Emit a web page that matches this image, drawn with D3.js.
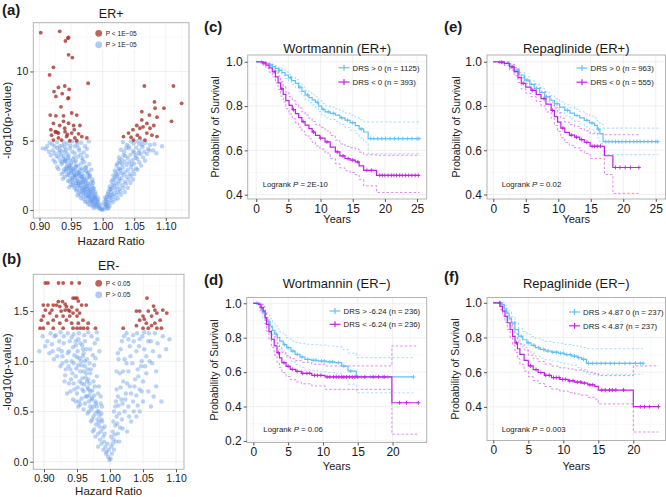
<!DOCTYPE html>
<html><head><meta charset="utf-8">
<script src="https://cdn.jsdelivr.net/npm/d3@7"></script>
<style>body{margin:0;background:#fff}svg{display:block}text{font-family:"Liberation Sans",Arial,sans-serif}</style>
</head><body><svg id="c" width="666" height="497"></svg>
<script>
// ---------- Volcano ER+ (a) ----------
const aRed=[[0.902,12.8],[0.932,12.9],[0.941,12.2],[0.945,12.4],[0.946,12.45],[0.946,11.2],[0.952,11.0],[0.922,10.3],[0.916,9.75],[0.977,9.15],[0.940,8.95],[0.947,8.7],[0.923,8.55],[0.930,8.85],[0.936,8.4],[0.926,8.2],[0.946,8.1],[0.945,8.05],[0.934,7.45],
[1.066,8.95],[1.112,8.95],[1.082,7.8],[1.125,7.7],[1.083,7.35],[1.062,7.1],[1.097,7.35],
[0.917,6.85],[0.926,6.8],[0.938,6.8],[0.951,7.0],[0.959,6.85],[1.074,6.85],[1.086,6.7],
[0.922,6.25],[0.938,6.4],[0.946,6.26],[0.954,6.1],[0.964,6.1],[0.918,5.8],[0.925,5.65],[0.930,5.55],[0.9405,5.65],[0.951,5.55],[0.919,5.4],[0.930,5.2],[0.943,5.3],[0.956,5.2],[0.967,5.3],[0.922,5.05],[0.935,5.05],[0.948,5.0],[0.959,5.0],[0.975,5.2],
[1.033,5.3],[1.041,5.55],[1.048,5.8],[1.054,6.1],[1.059,5.9],[1.064,6.0],[1.070,5.55],[1.078,5.4],[1.086,5.3],[1.049,5.05],[1.059,5.2],[1.067,5.05],[1.062,6.5],[1.070,6.25],[1.081,6.1],[1.109,6.4],
[0.928,5.6],[0.926,5.62],[0.940,5.9],[0.955,5.8],[0.932,6.1],[0.944,5.45],[0.962,5.5],[1.045,5.25],[1.055,5.4],[1.075,5.9]];
const aBlue=[[0.998,0.05],[0.996,0.15],[0.994,0.3],[0.992,0.2],[0.997,0.4],[0.990,0.45],[0.993,0.55],[0.995,0.1],[0.999,0.02],[0.988,0.5],[0.991,0.35],
[0.985,0.7],[0.987,0.9],[0.982,0.8],[0.990,0.75],[0.979,0.95],[0.984,0.6],[0.976,0.85],[0.988,1.0],[0.992,0.9],[0.973,0.98],[0.981,0.65],
[0.970,1.1],[0.975,1.3],[0.980,1.2],[0.985,1.4],[0.967,1.35],[0.972,1.45],[0.962,1.2],[0.978,1.05],[0.988,1.3],[0.958,1.4],[0.983,1.15],[0.965,1.05],
[0.955,1.6],[0.962,1.75],[0.968,1.9],[0.974,1.7],[0.980,1.85],[0.950,1.8],[0.958,1.95],[0.985,1.6],[0.947,1.65],[0.970,1.55],[0.977,1.95],[0.964,1.6],[0.953,1.98],
[0.945,2.1],[0.952,2.3],[0.960,2.2],[0.967,2.4],[0.973,2.15],[0.979,2.35],[0.940,2.4],[0.956,2.45],[0.984,2.2],[0.948,2.05],[0.963,2.05],[0.970,2.45],[0.937,2.25],
[0.935,2.6],[0.942,2.8],[0.950,2.7],[0.957,2.9],[0.963,2.65],[0.970,2.85],[0.976,2.6],[0.930,2.95],[0.946,2.55],[0.982,2.9],[0.953,2.95],[0.938,2.75],
[0.928,3.1],[0.935,3.3],[0.943,3.15],[0.950,3.4],[0.958,3.2],[0.966,3.35],[0.973,3.1],[0.925,3.45],[0.947,3.05],[0.955,3.45],[0.979,3.3],[0.940,3.5],
[0.922,3.6],[0.930,3.8],[0.938,3.7],[0.946,3.9],[0.953,3.65],[0.961,3.85],[0.968,3.6],[0.918,3.95],[0.975,3.9],[0.942,3.55],[0.934,3.98],
[0.915,4.2],[0.924,4.1],[0.932,4.35],[0.940,4.2],[0.948,4.45],[0.956,4.1],[0.963,4.3],[0.970,4.15],[0.910,4.4],[0.928,4.48],[0.944,4.05],[0.975,4.4],
[0.912,4.6],[0.920,4.75],[0.928,4.9],[0.936,4.65],[0.944,4.8],[0.952,4.95],[0.960,4.7],[0.966,4.85],[0.972,4.6],[0.978,4.95],[0.940,4.55],[0.956,4.6],
[0.972,0.6],[0.978,1.6],[0.966,2.0],[0.961,2.55],[0.975,2.3],[0.969,1.25],[0.983,1.75],[0.959,1.5],[0.974,2.8],[0.967,3.0],[0.961,1.85],[0.979,2.55],[0.985,1.95],[0.971,1.65],[0.955,2.6],[0.964,1.35],[0.986,0.85],[0.977,0.45],[0.981,1.45],[0.952,2.15],[0.968,2.25],[0.957,3.1],[0.962,2.75],[0.949,3.25],[0.945,2.95],[0.905,4.45],
[0.989,0.25],[0.986,0.4],[0.983,0.55],[0.980,0.7],[0.977,1.0],[0.974,1.15],[0.971,1.35],[0.968,1.55],[0.965,1.75],[0.962,1.95],[0.959,2.1],[0.956,2.3],[0.953,2.5],[0.950,2.85],[0.947,3.15],[0.944,3.35],[0.941,3.65],[0.938,3.9],[0.935,4.25],[0.932,4.6],
[0.991,0.6],[0.988,0.8],[0.985,1.05],[0.982,1.3],[0.979,1.5],[0.976,1.75],[0.973,2.0],[0.970,2.2],[0.967,2.6],[0.964,2.9],[0.961,3.2],[0.958,3.55],[0.955,3.8],[0.952,4.2],[0.949,4.65],
[0.984,0.3],[0.981,0.95],[0.978,1.3],[0.975,1.5],[0.972,1.85],[0.969,2.05],[0.966,2.35],[0.963,2.45],[0.960,2.7],[0.957,2.5],[0.954,2.8],[0.951,3.05],[0.948,3.6],[0.945,3.75],[0.942,4.35],[0.939,4.85],
[0.993,0.75],[0.989,1.15],[0.986,1.55],[0.983,2.05],[0.980,2.45],[0.977,2.75],[0.974,3.05],[0.971,3.45],[0.968,3.75],[0.965,4.0],[0.962,4.45],[0.959,4.9],
[0.957,1.75],[0.953,1.8],[0.949,2.3],[0.944,2.5],[0.939,2.95],[0.933,3.55],[0.927,3.9],[0.921,4.3],[0.916,4.85],[0.924,4.6],[0.931,4.15],[0.936,3.45],[0.942,3.0],[0.947,2.7],[0.960,1.05],[0.966,0.85],[0.970,0.8],[0.975,0.6],[0.980,0.35],[0.986,0.15],
[1.002,0.05],[1.004,0.2],[1.003,0.4],[1.006,0.3],[1.008,0.6],[1.005,0.8],[1.010,0.5],[1.007,1.0],[1.012,0.85],[1.015,1.1],[1.009,1.3],[1.018,1.2],[1.013,1.5],[1.020,1.45],[1.011,1.7],[1.022,1.65],[1.016,1.85],[1.025,1.9],[1.014,2.05],[1.019,2.2],[1.027,2.1],[1.030,2.3],[1.023,2.45],[1.017,2.5],[1.033,2.55],[1.021,2.7],[1.028,2.85],[1.036,2.75],[1.025,2.95],[1.040,2.9],[1.032,3.05],[1.022,3.2],[1.038,3.25],[1.045,3.1],[1.028,3.4],[1.035,3.5],[1.042,3.45],[1.050,3.35],[1.030,3.65],[1.040,3.75],[1.047,3.6],[1.055,3.7],[1.036,3.9],[1.044,4.0],[1.052,3.95],[1.060,4.05],[1.034,4.2],[1.048,4.25],[1.058,4.3],[1.066,4.2],[1.042,4.45],[1.053,4.5],[1.063,4.55],[1.072,4.4],[1.038,4.7],[1.049,4.8],[1.058,4.75],[1.068,4.85],[1.045,4.95],[1.062,4.95],[1.094,4.6],[1.080,4.3],[1.075,4.7],
[1.006,0.7],[1.012,1.05],[1.009,0.15],[1.017,0.95],[1.024,1.3],[1.020,0.75],[1.027,1.55],[1.031,1.8],[1.035,2.05],[1.026,2.25],[1.038,2.4],[1.043,2.6],[1.030,2.65],[1.048,2.85],[1.053,3.0],[1.026,3.55],[1.058,3.45],[1.064,3.8],[1.050,4.15],[1.070,4.05],
[1.003,0.6],[1.005,0.45],[1.007,0.35],[1.004,0.9],[1.008,1.15],[1.010,0.95],[1.013,1.3],[1.011,1.5],[1.015,1.6],[1.018,1.75],[1.021,1.95],[1.016,2.2],[1.020,2.4],[1.024,2.6],[1.019,2.85],[1.027,3.0],[1.023,3.35],[1.031,3.3],[1.026,3.8],[1.033,3.95],[1.029,4.35],[1.037,4.45],[1.032,4.9],[1.041,4.6],[1.055,4.95],[1.014,0.7],[1.022,1.1],[1.028,1.35],[1.033,1.6],[1.037,1.9],[1.041,2.2],[1.045,2.45],[1.050,2.6],[1.055,2.9],[1.046,3.3],[1.061,3.2],[1.052,3.75],[1.067,3.55],[1.057,4.1],[1.074,4.3],[1.063,4.7],[1.082,4.75],[1.085,4.1],[1.008,0.1],[1.011,0.3],[1.016,0.55],[1.024,0.85],[1.029,1.1],[1.035,1.3],[1.040,1.6],[1.044,1.95],[1.048,2.2]];

// ---------- Volcano ER- (b) ----------
const bRed=[[0.902,1.78],[0.906,1.78],[0.922,1.78],[0.929,1.78],[0.942,1.78],[0.9535,1.78],
[0.944,1.63],[0.947,1.63],[0.950,1.63],[1.056,1.63],[0.9217,1.595],[0.928,1.595],[0.952,1.60],[0.932,1.57],
[0.899,1.56],[0.906,1.56],[0.914,1.56],[0.919,1.56],[0.957,1.56],[0.964,1.56],[0.924,1.545],[0.934,1.545],[0.942,1.54],
[0.902,1.51],[0.912,1.51],[0.932,1.51],[0.937,1.51],[0.950,1.51],[1.068,1.51],[1.080,1.51],
[0.926,1.50],[0.939,1.50],[1.040,1.50],[1.045,1.50],[1.058,1.50],[0.909,1.48],[0.944,1.48],[0.954,1.48],[1.071,1.48],[1.086,1.48],
[0.899,1.45],[0.919,1.45],[0.929,1.45],[0.939,1.45],[0.950,1.45],[1.050,1.45],[1.063,1.45],
[0.896,1.41],[0.914,1.41],[0.934,1.41],[0.959,1.41],[1.045,1.41],[1.076,1.41],
[0.906,1.38],[0.924,1.38],[0.942,1.38],[0.952,1.38],[0.967,1.38],[1.055,1.38],[1.068,1.38],
[0.894,1.33],[0.899,1.33],[0.914,1.33],[0.929,1.33],[0.944,1.33],[0.950,1.33],[0.955,1.33],[0.960,1.33],[0.966,1.33],[0.978,1.33],[1.020,1.33],[1.050,1.33],[1.058,1.33],[1.071,1.33],[1.078,1.33],
[1.040,1.355],[1.063,1.355],[1.066,1.55],[1.052,1.42]];
const bBlue=[[0.999,0.02],[0.997,0.05],[0.995,0.1],[0.998,0.12],[0.993,0.15],[0.996,0.18],[0.991,0.2],[0.994,0.08],
[0.990,0.25],[0.986,0.3],[0.992,0.35],[0.982,0.28],[0.988,0.4],[0.979,0.37],[0.985,0.22],[0.976,0.32],[0.983,0.39],
[0.975,0.45],[0.981,0.5],[0.970,0.55],[0.986,0.58],[0.966,0.48],[0.978,0.6],[0.960,0.52],[0.973,0.42],[0.955,0.57],[0.984,0.46],[0.968,0.6],
[0.963,0.65],[0.958,0.72],[0.970,0.7],[0.977,0.75],[0.950,0.68],[0.945,0.78],[0.965,0.8],[0.982,0.68],[0.954,0.8],[0.940,0.7],[0.973,0.63],[0.961,0.77],[0.935,0.68],
[0.948,0.85],[0.955,0.9],[0.962,0.95],[0.970,0.88],[0.976,0.96],[0.940,0.92],[0.932,0.86],[0.945,0.98],[0.958,0.83],[0.967,0.82],[0.925,0.95],[0.980,0.85],[0.952,0.96],
[0.915,1.02],[0.928,1.05],[0.938,1.1],[0.950,1.04],[0.960,1.08],[0.970,1.12],[0.978,1.03],[0.944,1.14],[0.956,1.0],[0.922,1.12],[0.908,1.08],[0.965,1.02],[0.934,1.0],
[0.905,1.2],[0.918,1.26],[0.930,1.18],[0.942,1.24],[0.953,1.28],[0.962,1.2],[0.972,1.25],[0.980,1.29],[0.925,1.29],[0.948,1.16],[0.936,1.28],[0.958,1.16],[0.912,1.17],[0.967,1.29],[0.893,1.1],
[0.962,0.58],[0.957,0.63],[0.967,0.72],[0.972,0.52],[0.951,0.74],[0.964,0.88],[0.943,0.88],[0.975,0.8],[0.959,1.12],[0.946,1.06],[0.969,0.98],[0.938,0.78],[0.953,0.6],[0.980,0.55],[0.987,0.48],
[0.992,0.28],[0.989,0.33],[0.987,0.18],[0.984,0.35],[0.981,0.42],[0.978,0.48],[0.975,0.55],[0.972,0.62],[0.969,0.66],[0.966,0.74],[0.963,0.84],[0.960,0.9],[0.957,0.96],[0.954,1.03],[0.951,1.1],[0.948,1.2],[0.945,1.27],
[0.990,0.12],[0.987,0.42],[0.983,0.5],[0.979,0.58],[0.976,0.66],[0.973,0.71],[0.969,0.78],[0.966,0.92],[0.962,1.0],[0.959,1.05],[0.955,1.18],[0.952,1.22],[0.949,0.93],[0.946,0.72],[0.942,1.0],[0.939,1.2],[0.936,1.08],[0.933,0.92],[0.930,1.25],[0.927,1.1],[0.923,1.2],[0.920,1.05],[0.916,1.25],[0.913,1.1],[0.910,1.28],[0.902,1.15],[0.898,1.25],
[0.971,0.92],[0.974,1.06],[0.977,1.18],[0.981,1.22],[0.984,1.1],[0.983,0.75],[0.986,0.65],[0.988,0.55],[0.964,1.12],[0.961,1.26],[0.957,0.78],[0.952,0.55],[0.948,0.6],[0.944,0.62],[0.941,0.82],[0.937,0.95],[0.931,0.8],[0.928,0.98],[0.960,0.7],[0.965,0.65],[0.968,0.5],[0.971,0.4],[0.974,0.3],[0.978,0.25],[0.982,0.15],
[1.001,0.03],[1.003,0.08],[1.002,0.15],[1.006,0.12],[1.005,0.22],[1.009,0.2],[1.004,0.3],[1.012,0.28],[1.008,0.36],[1.015,0.34],[1.010,0.45],[1.018,0.42],[1.006,0.5],[1.022,0.5],[1.013,0.56],[1.028,0.55],[1.017,0.62],[1.035,0.6],[1.024,0.68],[1.040,0.66],[1.010,0.72],[1.030,0.75],[1.045,0.72],[1.020,0.8],[1.038,0.82],[1.050,0.8],[1.015,0.88],[1.028,0.9],[1.042,0.92],[1.055,0.88],[1.034,0.98],[1.048,1.0],[1.022,1.02],[1.060,1.0],[1.012,1.08],[1.040,1.1],[1.052,1.12],[1.030,1.15],[1.065,1.1],[1.018,1.2],[1.045,1.22],[1.058,1.2],[1.072,1.18],[1.035,1.26],[1.068,1.28],[1.080,1.25],[1.052,1.29],[1.025,1.28],[1.090,1.22],[1.078,0.6],[1.070,0.75],[1.062,0.55],[1.045,0.5],[1.032,0.4],[1.050,0.6],[1.026,0.3],[1.040,0.45],
[1.002,0.25],[1.004,0.18],[1.007,0.27],[1.005,0.4],[1.011,0.38],[1.008,0.55],[1.014,0.48],[1.012,0.65],[1.019,0.58],[1.016,0.74],[1.023,0.62],[1.020,0.9],[1.026,0.78],[1.032,0.68],[1.025,0.98],[1.037,0.75],[1.043,0.85],[1.031,1.05],[1.047,0.95],[1.036,1.2],[1.055,1.05],[1.062,1.2],[1.041,1.28],[1.075,1.05],[1.085,1.12],[1.070,0.9],[1.058,0.7],[1.066,0.65],[1.016,1.12],[1.021,1.25],[1.028,1.22],[1.044,1.15],[1.049,1.25],[1.059,1.28],[1.064,0.98],[1.053,0.95],[1.010,0.9],[1.013,1.02],[1.009,0.6],[1.029,0.45],[1.036,0.5],[1.019,0.33],[1.014,0.2],[1.042,0.56],[1.048,0.7]];

const hrTicks=[0.90,0.95,1.00,1.05,1.10];
const aYTicks=[0,5,10];
const bYTicks=[0.0,0.5,1.0,1.5];

// ---------- KM: Wortmannin ER+ (c) ----------
const c1Time=[0,0.5,1.0,1.5,2.0,2.5,3.0,3.5,4.0,4.5,5.0,5.5,6.1,6.6,7.1,7.6,8.2,8.7,9.2,9.7,10.2,10.7,11.5,12.3,13.0,13.8,14.6,15.4,16.0,16.7,17.4,25.4];
const c1Surv=[1,1,0.996,0.992,0.985,0.978,0.970,0.961,0.951,0.940,0.928,0.915,0.902,0.885,0.866,0.850,0.838,0.828,0.817,0.800,0.785,0.774,0.767,0.759,0.747,0.736,0.725,0.712,0.697,0.683,0.653,0.653];
const c1Low=[1,0.998,0.99,0.985,0.976,0.968,0.958,0.948,0.937,0.925,0.912,0.898,0.884,0.866,0.846,0.829,0.816,0.805,0.793,0.775,0.759,0.747,0.739,0.730,0.717,0.704,0.691,0.676,0.656,0.637,0.585,0.585];
const c1Up=[1,1,1,0.998,0.993,0.988,0.981,0.973,0.965,0.955,0.944,0.932,0.92,0.904,0.886,0.871,0.86,0.851,0.841,0.825,0.811,0.801,0.795,0.788,0.777,0.768,0.759,0.748,0.738,0.729,0.728,0.728];
const c1Cens=[0.8,2.2,3.6,5.3,6.8,8.0,9.5,10.4,11.2,12.0,13.3,14.2,15.0,16.3,17.8,18.3,18.9,19.5,20.1,20.8,21.5,22.1,22.8,23.5,24.2,25.0,25.3];
const c2Time=[0,0.6,1.0,1.5,2.0,2.5,3.0,3.4,3.8,4.2,4.6,5.1,5.6,6.1,6.6,7.1,7.6,8.2,8.7,9.2,9.9,10.7,11.5,12.3,13.0,13.8,14.6,15.4,16.0,16.7,18.7,25.4];
const c2Surv=[1,1,0.995,0.985,0.972,0.955,0.932,0.905,0.878,0.853,0.825,0.803,0.784,0.766,0.748,0.730,0.714,0.698,0.683,0.668,0.655,0.638,0.615,0.593,0.575,0.563,0.556,0.548,0.530,0.510,0.487,0.487];
const c2Low=[1,0.995,0.985,0.97,0.953,0.932,0.905,0.875,0.845,0.818,0.788,0.764,0.743,0.724,0.705,0.686,0.669,0.652,0.636,0.620,0.606,0.588,0.563,0.540,0.521,0.508,0.500,0.490,0.468,0.440,0.410,0.410];
const c2Up=[1,1,1,0.997,0.99,0.977,0.958,0.935,0.91,0.888,0.862,0.842,0.824,0.808,0.791,0.774,0.759,0.744,0.730,0.716,0.704,0.688,0.667,0.646,0.629,0.618,0.612,0.606,0.592,0.580,0.578,0.578];
const c2Cens=[1.2,2.8,4.0,5.8,7.3,8.9,10.0,11.0,12.6,13.5,14.3,15.0,15.8,17.2,17.9,19.2,19.6,20.0,20.5,21.0,21.4,21.8,22.3,22.7,23.2,23.7,24.2,24.7,25.2];

// ---------- KM: Repaglinide ER+ (e) ----------
const e1Time=[0,0.8,1.7,2.5,3.2,4.0,4.8,5.6,6.3,7.1,7.9,8.7,9.4,10.2,11.0,11.8,12.5,13.3,14.0,14.8,15.6,16.0,16.4,16.9,25.4];
const e1Surv=[1,0.998,0.993,0.979,0.962,0.940,0.917,0.898,0.879,0.860,0.841,0.826,0.810,0.795,0.780,0.768,0.757,0.746,0.735,0.723,0.712,0.695,0.674,0.639,0.639];
const e1Low=[1,0.995,0.987,0.97,0.951,0.927,0.902,0.881,0.861,0.84,0.82,0.804,0.787,0.771,0.755,0.742,0.73,0.718,0.706,0.692,0.678,0.656,0.63,0.58,0.58];
const e1Up=[1,1,0.998,0.988,0.973,0.953,0.932,0.914,0.897,0.879,0.862,0.848,0.833,0.819,0.805,0.794,0.784,0.774,0.764,0.754,0.746,0.733,0.718,0.70,0.70];
const e1Cens=[1.0,2.3,3.8,5.2,6.6,8.2,9.8,11.4,12.9,14.4,15.2,16.2,17.3,17.8,18.3,18.8,19.3,19.8,20.4,21.0,21.6,22.1,22.6,23.2,23.8,24.4,25.0,25.3];
const e2Time=[0,0.8,1.7,2.5,3.2,3.8,4.3,5.0,5.8,6.6,7.35,8.1,8.9,9.4,9.9,10.4,11.0,11.7,12.5,13.3,14.0,14.9,17.1,18.4,22.6];
const e2Surv=[1,0.998,0.993,0.977,0.955,0.928,0.902,0.885,0.871,0.852,0.833,0.808,0.780,0.752,0.727,0.700,0.681,0.668,0.659,0.648,0.636,0.618,0.575,0.522,0.522];
const e2Low=[1,0.993,0.983,0.962,0.936,0.906,0.877,0.858,0.842,0.821,0.80,0.773,0.743,0.712,0.685,0.656,0.635,0.621,0.611,0.598,0.585,0.563,0.49,0.405,0.405];
const e2Up=[1,1,1,0.99,0.973,0.95,0.927,0.912,0.90,0.883,0.866,0.843,0.818,0.792,0.769,0.744,0.727,0.716,0.708,0.698,0.688,0.675,0.67,0.67,0.67];
const e2Cens=[1.3,2.9,4.6,6.0,7.8,9.1,10.7,12.0,12.8,13.6,14.4,15.2,15.6,16.0,16.5,18.8,19.5,20.3,21.1,22.4];

// ---------- KM: Wortmannin ER- (d) ----------
const d1Time=[0,0.5,0.96,1.3,1.68,2.0,2.4,2.75,3.1,3.45,3.8,4.3,4.8,5.4,6.0,6.7,7.4,8.3,9.3,10.5,11.7,12.7,13.6,14.8,23.0];
const d1Surv=[1,1,0.974,0.945,0.916,0.893,0.868,0.843,0.820,0.800,0.780,0.760,0.742,0.722,0.703,0.688,0.674,0.669,0.664,0.660,0.655,0.635,0.606,0.572,0.572];
const d1Low=[1,1,0.95,0.915,0.88,0.853,0.825,0.797,0.771,0.749,0.727,0.705,0.686,0.664,0.644,0.628,0.613,0.608,0.602,0.597,0.591,0.565,0.53,0.48,0.48];
const d1Up=[1,1,0.995,0.975,0.952,0.933,0.911,0.889,0.869,0.851,0.833,0.815,0.798,0.78,0.773,0.767,0.762,0.760,0.757,0.752,0.748,0.732,0.71,0.684,0.684];
const d1Cens=[0.5,2.2,3.3,4.5,5.0,5.7,6.3,7.0,7.8,8.6,9.0,9.8,10.2,11.0,11.4,12.2,13.0,14.0,15.5,16.8,17.5,18.6,19.3,23.0];
const d2Time=[0,0.72,1.1,1.43,1.7,1.9,2.25,2.6,3.0,3.4,3.75,4.1,4.7,5.3,6.1,6.9,8.4,10.3,19.9,23.7];
const d2Surv=[1,0.994,0.975,0.955,0.915,0.878,0.835,0.791,0.752,0.713,0.683,0.655,0.634,0.616,0.604,0.593,0.581,0.572,0.422,0.422];
const d2Low=[1,0.982,0.955,0.928,0.88,0.838,0.79,0.742,0.699,0.657,0.626,0.597,0.575,0.556,0.543,0.532,0.52,0.50,0.239,0.239];
const d2Up=[1,1,0.995,0.982,0.95,0.918,0.88,0.84,0.805,0.769,0.742,0.715,0.695,0.678,0.667,0.657,0.646,0.636,0.752,0.752];
const d2Cens=[1.2,3.6,4.4,5.0,5.6,6.3,7.1,7.7,8.1,8.8,9.2,9.7,10.6,11.0,11.5,11.9,12.3,12.7,13.0,13.4,13.8,14.2,14.6,15.0,16.0,17.2,18.0,18.8,21.0,22.0,23.7];

// ---------- KM: Repaglinide ER- (f) ----------
const f1Time=[0,0.6,1.2,1.55,1.9,2.25,2.6,3.1,3.6,4.2,4.8,5.4,6.0,6.7,7.4,8.3,9.3,10.2,11.2,12.0,12.6,13.3,21.4];
const f1Surv=[1,1,0.989,0.965,0.941,0.912,0.883,0.845,0.807,0.787,0.769,0.755,0.741,0.731,0.722,0.715,0.709,0.701,0.693,0.684,0.674,0.651,0.651];
const f1Low=[1,1,0.975,0.944,0.914,0.88,0.848,0.805,0.764,0.742,0.722,0.707,0.692,0.681,0.671,0.663,0.656,0.647,0.638,0.627,0.615,0.588,0.588];
const f1Up=[1,1,1,0.985,0.968,0.945,0.92,0.888,0.852,0.834,0.818,0.805,0.793,0.785,0.777,0.771,0.766,0.76,0.754,0.748,0.742,0.735,0.735];
const f1Cens=[1.0,3.0,4.0,5.0,5.8,6.5,7.2,7.8,8.5,9.0,9.6,10.0,10.5,11.0,11.6,12.2,12.9,13.6,14.2,14.8,15.4,16.0,16.7,17.3,18.0,18.8,19.5,20.3,21.0,21.4];
const f2Time=[0,0.6,0.96,1.3,1.67,2.0,2.4,2.75,3.1,3.45,3.8,4.4,5.0,5.7,6.4,7.3,8.3,9.5,10.7,11.6,12.6,13.5,14.5,15.0,20.0,23.6];
const f2Surv=[1,1,0.979,0.952,0.922,0.885,0.846,0.806,0.769,0.735,0.703,0.668,0.636,0.615,0.598,0.582,0.569,0.558,0.550,0.543,0.537,0.527,0.518,0.497,0.401,0.401];
const f2Low=[1,1,0.96,0.925,0.888,0.845,0.80,0.756,0.715,0.678,0.645,0.607,0.574,0.552,0.534,0.517,0.503,0.491,0.482,0.474,0.467,0.455,0.445,0.417,0.255,0.255];
const f2Up=[1,1,0.995,0.978,0.955,0.925,0.89,0.855,0.822,0.791,0.762,0.729,0.698,0.678,0.662,0.647,0.635,0.625,0.618,0.612,0.607,0.599,0.592,0.58,0.636,0.636];
const f2Cens=[0.9,3.3,5.3,6.1,6.8,7.5,8.0,8.6,9.0,9.4,9.9,10.3,10.9,11.4,12.0,12.5,13.0,13.8,14.2,15.5,16.0,16.6,17.0,17.5,18.6,21.0,21.6,22.3,23.6];

const yearTicks25=[0,5,10,15,20,25];
const yearTicks20=[0,5,10,15,20];

// ---------- drawing ----------
const svg=d3.select('#c');
const BLUE_PT='#5d95ec', RED_PT='#a8352e';
const KM_BLUE='#62c1f5', KM_MAG='#c51fe6';
const GRID='#ececec', GRID_MINOR='#f5f5f5', FRAME='#b3b3b3', TXT='#1a1a1a';

function txt(g,x,y,s,o={}){
  const t=g.append('text').attr('x',x).attr('y',y).text(s)
    .attr('font-size',o.size||10).attr('fill',o.fill||TXT)
    .attr('text-anchor',o.anchor||'start');
  if(o.family) t.attr('font-family',o.family);
  if(o.weight) t.attr('font-weight',o.weight);
  if(o.rotate) t.attr('transform',`rotate(-90,${x},${y})`);
  return t;
}
function grid(g,x,y,o){
  o.xminor.forEach(v=>g.append('line').attr('x1',x(v)).attr('x2',x(v)).attr('y1',o.t).attr('y2',o.b).attr('stroke',GRID_MINOR).attr('stroke-width',0.6));
  o.yminor.forEach(v=>g.append('line').attr('y1',y(v)).attr('y2',y(v)).attr('x1',o.l).attr('x2',o.r).attr('stroke',GRID_MINOR).attr('stroke-width',0.6));
  o.xticks.forEach(v=>g.append('line').attr('x1',x(v)).attr('x2',x(v)).attr('y1',o.t).attr('y2',o.b).attr('stroke',GRID).attr('stroke-width',0.8));
  o.yticks.forEach(v=>g.append('line').attr('y1',y(v)).attr('y2',y(v)).attr('x1',o.l).attr('x2',o.r).attr('stroke',GRID).attr('stroke-width',0.8));
}
function axes(g,x,y,o){
  g.append('rect').attr('x',o.l).attr('y',o.t).attr('width',o.r-o.l).attr('height',o.b-o.t)
    .attr('fill','none').attr('stroke',FRAME).attr('stroke-width',1);
  const ax=g.append('g').attr('transform',`translate(0,${o.b})`)
    .call(d3.axisBottom(x).tickValues(o.xticks).tickFormat(o.xfmt).tickSize(3).tickPadding(2));
  const ay=g.append('g').attr('transform',`translate(${o.l},0)`)
    .call(d3.axisLeft(y).tickValues(o.yticks).tickFormat(o.yfmt).tickSize(3).tickPadding(2));
  [ax,ay].forEach(a=>{
    a.select('.domain').remove();
    a.selectAll('line').attr('stroke','#555');
    a.selectAll('text').attr('font-size',o.tickSize).attr('fill',TXT).attr('font-family','"Liberation Sans",Arial,sans-serif');
  });
}

function volcano(o){
  const x=d3.scaleLinear().domain(o.xd).range([o.l,o.r]);
  const y=d3.scaleLinear().domain(o.yd).range([o.b,o.t]);
  const g=svg.append('g');
  g.append('rect').attr('x',o.l).attr('y',o.t).attr('width',o.r-o.l).attr('height',o.b-o.t).attr('fill','#fff');
  grid(g,x,y,o);
  g.append('g').selectAll('circle').data(o.blue).join('circle')
    .attr('cx',d=>x(d[0])).attr('cy',d=>y(d[1])).attr('r',2.2)
    .attr('fill',BLUE_PT).attr('fill-opacity',0.42);
  g.append('g').selectAll('circle').data(o.red).join('circle')
    .attr('cx',d=>x(d[0])).attr('cy',d=>y(d[1])).attr('r',1.9)
    .attr('fill',RED_PT).attr('fill-opacity',0.8);
  axes(g,x,y,o);
  // legend
  g.append('rect').attr('x',o.lx-6).attr('y',o.ly-6).attr('width',50).attr('height',23).attr('fill','#fff');
  g.append('circle').attr('cx',o.lx).attr('cy',o.ly).attr('r',3.4).attr('fill','#bf625b');
  g.append('circle').attr('cx',o.lx).attr('cy',o.ly+11.5).attr('r',3.4).attr('fill','#aecaf5');
  txt(g,o.lx+7,o.ly+2.3,o.leg[0],{size:6.6});
  txt(g,o.lx+7,o.ly+13.8,o.leg[1],{size:6.6});
  txt(g,(o.l+o.r)/2,o.titleY,o.title,{size:12.5,anchor:'middle'});
  txt(g,2,o.letterY,o.letter,{size:15,weight:'bold',family:'"Liberation Serif","Times New Roman",serif'});
  txt(g,11,(o.t+o.b)/2,'-log10(p-value)',{size:11.5,anchor:'middle',rotate:true});
  txt(g,(o.l+o.r)/2,o.xlabY,'Hazard Ratio',{size:11.5,anchor:'middle'});
}

function km(o){
  const x=d3.scaleLinear().domain(o.xd).range([o.l,o.r]);
  const y=d3.scaleLinear().domain(o.yd).range([o.b,o.t]);
  const g=svg.append('g');
  grid(g,x,y,o);
  o.groups.forEach(gr=>{
    const pts=gr.time.map((t,i)=>({t,s:gr.surv[i],lo:gr.low[i],up:gr.up[i]}));
    const mk=k=>d3.line().x(d=>x(d.t)).y(d=>y(d[k])).curve(d3.curveStepAfter)(pts);
    ['lo','up'].forEach(k=>g.append('path').attr('d',mk(k)).attr('fill','none')
      .attr('stroke',gr.color).attr('stroke-opacity',0.65).attr('stroke-width',0.8).attr('stroke-dasharray','2.5,2'));
  });
  o.groups.forEach(gr=>{
    const pts=gr.time.map((t,i)=>({t,s:gr.surv[i]}));
    g.append('path').attr('d',d3.line().x(d=>x(d.t)).y(d=>y(d.s)).curve(d3.curveStepAfter)(pts))
      .attr('fill','none').attr('stroke',gr.color).attr('stroke-width',1.2);
    const dpath=gr.cens.map(c=>{
      const i=Math.max(0,d3.bisectRight(gr.time,c)-1);
      const cx=x(c), cy=y(gr.surv[i]);
      return `M${cx-2},${cy}h4M${cx},${cy-2}v4`;
    }).join('');
    g.append('path').attr('d',dpath).attr('stroke',gr.color).attr('stroke-width',0.9).attr('fill','none');
  });
  axes(g,x,y,o);
  // legend
  o.groups.forEach((gr,i)=>{
    const ly=o.ly+i*o.lgap;
    g.append('line').attr('x1',o.lx-5.5).attr('x2',o.lx+5.5).attr('y1',ly).attr('y2',ly).attr('stroke',gr.color).attr('stroke-width',1.2);
    g.append('line').attr('x1',o.lx).attr('x2',o.lx).attr('y1',ly-3).attr('y2',ly+3).attr('stroke',gr.color).attr('stroke-width',1.2);
    txt(g,o.lx+8.5,ly+2.8,gr.label,{size:7.8});
  });
  const lt=txt(g,o.pvx,o.pvy,'Logrank ',{size:7.8});
  lt.append('tspan').attr('font-style','italic').text('P');
  lt.append('tspan').text(' = '+o.pv);
  txt(g,(o.l+o.r)/2,o.titleY,o.title,{size:13,anchor:'middle'});
  txt(g,o.letterX,o.letterY,o.letter,{size:15,weight:'bold',family:'"Liberation Serif","Times New Roman",serif'});
  txt(g,o.ylabX,(o.t+o.b)/2,'Probability of Survival',{size:10.5,anchor:'middle',rotate:true});
  txt(g,(o.l+o.r)/2,o.xlabY,'Years',{size:11,anchor:'middle'});
}

const f2=d3.format('.2f'), f1=d3.format('.1f'), f0=d3.format('d');

volcano({l:33.3,r:189,t:22.7,b:218,xd:[0.8902,1.1367],yd:[-0.578,13.52],
  xticks:hrTicks,yticks:aYTicks,xminor:[0.925,0.975,1.025,1.075,1.125],yminor:[2.5,7.5,12.5],
  xfmt:f2,yfmt:f0,tickSize:10.5,red:aRed,blue:aBlue,lx:98.7,ly:33.3,leg:['P < 1E\u221205','P > 1E\u221205'],
  title:'ER+',titleY:18,letter:'(a)',letterY:15,xlabY:245});
volcano({l:33.3,r:184,t:274.3,b:469.3,xd:[0.8838,1.1121],yd:[-0.0757,1.8665],
  xticks:hrTicks,yticks:bYTicks,xminor:[0.925,0.975,1.025,1.075],yminor:[0.25,0.75,1.25,1.75],
  xfmt:f2,yfmt:f1,tickSize:10.5,red:bRed,blue:bBlue,lx:98.7,ly:283.3,leg:['P < 0.05','P > 0.05'],
  title:'ER-',titleY:270,letter:'(b)',letterY:264,xlabY:495});

km({l:247.7,r:426.7,t:55,b:199,xd:[-1.32,26.5],yd:[0.3805,1.0305],
  xticks:yearTicks25,yticks:[0.4,0.6,0.8,1.0],xminor:[2.5,7.5,12.5,17.5,22.5],yminor:[0.5,0.7,0.9],
  xfmt:f0,yfmt:f1,tickSize:12,
  groups:[{time:c1Time,surv:c1Surv,low:c1Low,up:c1Up,cens:c1Cens,color:KM_BLUE,label:'DRS > 0 (n = 1125)'},
          {time:c2Time,surv:c2Surv,low:c2Low,up:c2Up,cens:c2Cens,color:KM_MAG,label:'DRS < 0 (n = 393)'}],
  lx:344,ly:67.7,lgap:14.3,pvx:262.7,pvy:187,pv:'2E-10',title:'Wortmannin (ER+)',titleY:53,
  letter:'(c)',letterX:204,letterY:32,ylabX:219,xlabY:223});
km({l:487,r:665.5,t:55,b:199,xd:[-0.97,26.5],yd:[0.3795,1.0305],
  xticks:yearTicks25,yticks:[0.4,0.6,0.8,1.0],xminor:[2.5,7.5,12.5,17.5,22.5],yminor:[0.5,0.7,0.9],
  xfmt:f0,yfmt:f1,tickSize:12,
  groups:[{time:e1Time,surv:e1Surv,low:e1Low,up:e1Up,cens:e1Cens,color:KM_BLUE,label:'DRS > 0 (n = 963)'},
          {time:e2Time,surv:e2Surv,low:e2Low,up:e2Up,cens:e2Cens,color:KM_MAG,label:'DRS < 0 (n = 555)'}],
  lx:582,ly:68,lgap:14.2,pvx:501.7,pvy:187,pv:'0.02',title:'Repaglinide (ER+)',titleY:53,
  letter:'(e)',letterX:444,letterY:32,ylabX:459.5,xlabY:223});
km({l:246.7,r:426.7,t:297.5,b:442.5,xd:[-0.95,24.9],yd:[0.191,1.0337],
  xticks:yearTicks20,yticks:[0.2,0.4,0.6,0.8,1.0],xminor:[2.5,7.5,12.5,17.5,22.5],yminor:[0.3,0.5,0.7,0.9],
  xfmt:f0,yfmt:f1,tickSize:12,
  groups:[{time:d1Time,surv:d1Surv,low:d1Low,up:d1Up,cens:d1Cens,color:KM_BLUE,label:'DRS > -6.24 (n = 236)'},
          {time:d2Time,surv:d2Surv,low:d2Low,up:d2Up,cens:d2Cens,color:KM_MAG,label:'DRS < -6.24 (n = 236)'}],
  lx:335,ly:311,lgap:13.3,pvx:263.3,pvy:432,pv:'0.06',title:'Wortmannin (ER\u2212)',titleY:288,
  letter:'(d)',letterX:204,letterY:284.5,ylabX:217.5,xlabY:470});
km({l:487,r:665.5,t:297.5,b:440.5,xd:[-0.9,24.6],yd:[0.206,1.0305],
  xticks:yearTicks20,yticks:[0.4,0.6,0.8,1.0],xminor:[2.5,7.5,12.5,17.5,22.5],yminor:[0.3,0.5,0.7,0.9],
  xfmt:f0,yfmt:f1,tickSize:12,
  groups:[{time:f1Time,surv:f1Surv,low:f1Low,up:f1Up,cens:f1Cens,color:KM_BLUE,label:'DRS > 4.87 0 (n = 237)'},
          {time:f2Time,surv:f2Surv,low:f2Low,up:f2Up,cens:f2Cens,color:KM_MAG,label:'DRS < 4.87 (n = 237)'}],
  lx:574.5,ly:312,lgap:13.8,pvx:501.7,pvy:431.5,pv:'0.003',title:'Repaglinide (ER\u2212)',titleY:288,
  letter:'(f)',letterX:444,letterY:282,ylabX:458.5,xlabY:470});
</script></body></html>
